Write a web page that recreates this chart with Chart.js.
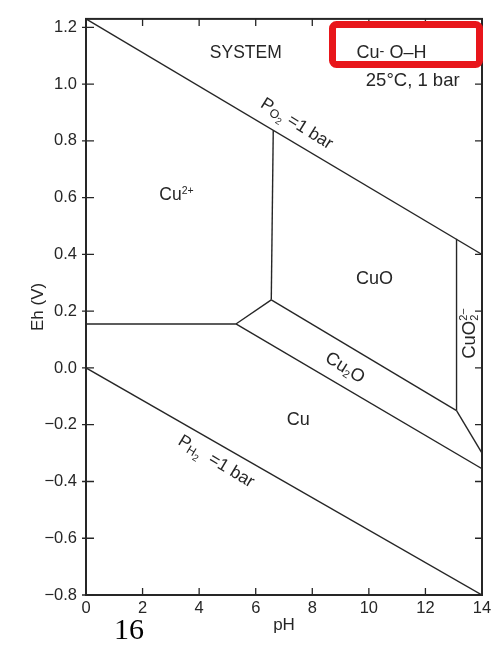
<!DOCTYPE html>
<html>
<head>
<meta charset="utf-8">
<script src="https://cdn.jsdelivr.net/npm/chart.js@4.4.0/dist/chart.umd.min.js"></script>
<style>
  html, body { margin: 0; padding: 0; background: #fff; }
  #wrap { width: 501px; height: 647px; }
</style>
</head>
<body>
<div id="wrap"><canvas id="chart" width="501" height="647"></canvas></div>
<script>
// axis ticks
var phTicks = [0, 2, 4, 6, 8, 10, 12, 14];
var ehTicks = [-0.8, -0.6, -0.4, -0.2, 0.0, 0.2, 0.4, 0.6, 0.8, 1.0, 1.2];

// stability boundaries, [pH, Eh]
var lineO2 = [[0, 1.23], [14, 0.40]];
var lineH2 = [[0, 0.0], [14, -0.80]];
var cu2_cu = [[0, 0.155], [5.3, 0.155]];
var cu2_cu2o = [[5.3, 0.155], [6.55, 0.24]];
var cu2_cuo = [[6.55, 0.24], [6.62, 0.838]];
var cu2o_cuo = [[6.55, 0.24], [13.1, -0.15]];
var cu_cu2o = [[5.3, 0.155], [14, -0.355]];
var cuo_cuo2 = [[13.1, -0.15], [13.1, 0.455]];
var cu2o_cuo2 = [[13.1, -0.15], [14, -0.30]];

var boundaries = [lineO2, lineH2, cu2_cu, cu2_cu2o, cu2_cuo, cu2o_cuo, cu_cu2o, cuo_cuo2, cu2o_cuo2];

var ink = '#262626';
var fam = '"Liberation Sans", Arial, sans-serif';

// text in pieces: [text, scale, dy, advance]
function drawRich(ctx, segs, x, y, angle, size) {
    ctx.save();
    ctx.translate(x, y);
    ctx.rotate(angle * Math.PI / 180);
    var w = 0;
    segs.forEach(function(s) {
        ctx.font = (size * s[1]) + 'px ' + fam;
        if (s[3] !== false) w += ctx.measureText(s[0]).width;
    });
    var cx = -w / 2;
    ctx.fillStyle = ink;
    ctx.textBaseline = 'middle';
    ctx.textAlign = 'left';
    segs.forEach(function(s) {
        ctx.font = (size * s[1]) + 'px ' + fam;
        ctx.fillText(s[0], cx, s[2]);
        if (s[3] !== false) cx += ctx.measureText(s[0]).width;
    });
    ctx.restore();
}

var decor = {
    id: 'decor',
    afterDraw: function(chart) {
        var ctx = chart.ctx;
        var a = chart.chartArea;
        var xs = chart.scales.x, ys = chart.scales.y;
        ctx.save();
        // frame
        ctx.strokeStyle = ink;
        ctx.lineWidth = 2;
        ctx.strokeRect(a.left, a.top, a.right - a.left, a.bottom - a.top);
        // inward ticks
        ctx.lineWidth = 1.3;
        ctx.beginPath();
        phTicks.forEach(function(v) {
            var px = xs.getPixelForValue(v);
            ctx.moveTo(px, a.bottom); ctx.lineTo(px, a.bottom - 7);
            ctx.moveTo(px, a.top); ctx.lineTo(px, a.top + 7);
        });
        ehTicks.forEach(function(v) {
            var py = ys.getPixelForValue(v);
            ctx.moveTo(a.left - 4, py); ctx.lineTo(a.left + 8, py);
            ctx.moveTo(a.right, py); ctx.lineTo(a.right - 7, py);
        });
        ctx.stroke();

        function P(ph, eh) { return [xs.getPixelForValue(ph), ys.getPixelForValue(eh)]; }
        var p;
        p = P(5.65, 1.108); drawRich(ctx, [['SYSTEM', 1, 0]], p[0], p[1], 0, 17.5);
        p = P(10.8, 1.108); drawRich(ctx, [['Cu', 1, 0], ['-', 0.8, -1], [' O\u2013H', 1, 0]], p[0], p[1], 0, 18);
        p = P(11.55, 1.01); drawRich(ctx, [['25\u00b0C, 1 bar', 1, 0]], p[0], p[1], 0, 18.5);
        p = P(7.45, 0.86); drawRich(ctx, [['P', 1, 0], ['O', 0.7, 4], ['2', 0.55, 8], [' =1 bar', 1, 0]], p[0], p[1], 32, 17.5);
        p = P(4.6, -0.33); drawRich(ctx, [['P', 1, 0], ['H', 0.7, 4], ['2', 0.55, 8], ['  =1 bar', 1, 0]], p[0], p[1], 31, 17.5);
        p = P(3.2, 0.61); drawRich(ctx, [['Cu', 1, 0], ['2+', 0.6, -4]], p[0], p[1], 0, 17.5);
        p = P(10.2, 0.315); drawRich(ctx, [['CuO', 1, 0]], p[0], p[1], 0, 18);
        p = P(9.15, 0.0); drawRich(ctx, [['Cu', 1, 0], ['2', 0.6, 5], ['O', 1, 0]], p[0], p[1], 32, 18);
        p = P(7.5, -0.185); drawRich(ctx, [['Cu', 1, 0]], p[0], p[1], 0, 18);
        p = P(13.57, 0.11); drawRich(ctx, [['CuO', 1, 0], ['2\u2212', 0.6, -6, false], ['2', 0.6, 5]], p[0], p[1], -90, 18.5);

        // red highlight box
        ctx.strokeStyle = '#e8161b';
        ctx.lineWidth = 7;
        ctx.beginPath();
        if (ctx.roundRect) ctx.roundRect(332.5, 24.5, 147, 40, 4); else ctx.rect(332.5, 24.5, 147, 40);
        ctx.stroke();

        // page number
        ctx.fillStyle = '#000';
        ctx.font = '30px "Liberation Serif", serif';
        ctx.textAlign = 'center';
        ctx.textBaseline = 'alphabetic';
        ctx.fillText('16', 129, 639);
        ctx.restore();
    }
};

var ctx = document.getElementById('chart').getContext('2d');
var chart = new Chart(ctx, {
    type: 'scatter',
    data: {
        datasets: boundaries.map(function(b) {
            return {
                data: b.map(function(pt) { return { x: pt[0], y: pt[1] }; }),
                showLine: true,
                borderColor: ink,
                borderWidth: 1.4,
                pointRadius: 0,
                fill: false
            };
        })
    },
    options: {
        responsive: false,
        animation: false,
        events: [],
        layout: { padding: { top: 14, right: 19, left: 0, bottom: 0 } },
        plugins: { legend: { display: false }, tooltip: { enabled: false } },
        scales: {
            x: {
                type: 'linear', min: 0, max: 14,
                afterBuildTicks: function(s) { s.ticks = phTicks.map(function(v) { return { value: v }; }); },
                afterFit: function(s) { s.height = 52; },
                ticks: { color: ink, font: { family: fam, size: 16.5 }, padding: 4, maxRotation: 0,
                         callback: function(v) { return String(v); } },
                grid: { display: false, drawTicks: false },
                border: { display: false },
                title: { display: true, text: 'pH', color: ink, font: { family: fam, size: 17 }, padding: { top: 0, bottom: 11 } }
            },
            y: {
                type: 'linear', min: -0.8, max: 1.23,
                afterBuildTicks: function(s) { s.ticks = ehTicks.map(function(v) { return { value: v }; }); },
                afterFit: function(s) { s.width = 86; },
                ticks: { color: ink, font: { family: fam, size: 16.5 }, padding: 9,
                         callback: function(v) { return v.toFixed(1).replace('-', '\u2212'); } },
                grid: { display: false, drawTicks: false },
                border: { display: false },
                title: { display: true, text: 'Eh (V)', color: ink, font: { family: fam, size: 17 }, padding: { top: 28, bottom: 0 } }
            }
        }
    },
    plugins: [decor]
});
</script>
</body>
</html>
